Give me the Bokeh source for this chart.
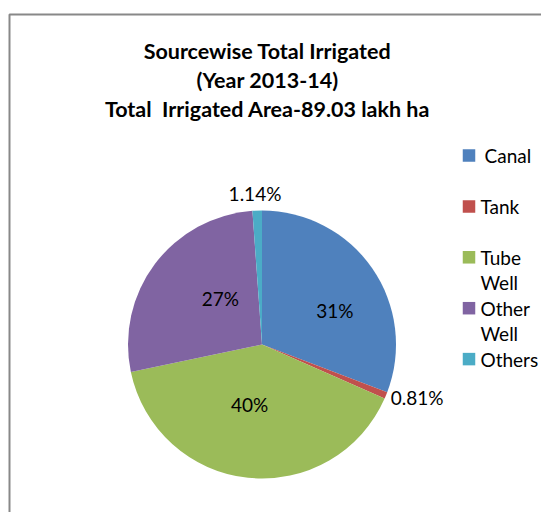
import numpy as np
from bokeh.plotting import figure
from bokeh.models import Range1d
from bokeh.core.properties import value
from bokeh.embed import file_html
from bokeh.resources import INLINE

# ---------------- data ----------------
sources = ["Canal", "Tank", "Tube Well", "Other Well", "Others"]
shares = [30.8, 0.81, 40.1, 27.15, 1.14]          # percent of total irrigated area
pct_labels = ["31%", "0.81%", "40%", "27%", "1.14%"]
legend_lines = [["Canal"], ["Tank"], ["Tube", "Well"], ["Other", "Well"], ["Others"]]
title_lines = ["Sourcewise Total Irrigated", "(Year 2013-14)",
               "Total\u00a0 Irrigated Area-89.03 lakh ha"]

# ---------------- style / layout ----------------
colors = ["#4F81BD", "#C0504D", "#9BBB59", "#8064A2", "#4BACC6"]
FONT = "Lato"
W, H = 541, 512
CX, CY, R = 261.5, 168, 134
label_rad = [0.60, 1.22, 0.46, 0.46, 1.13]
label_nudge = [9.6, -3.5, 5.7, 10.6, -0.6]
label_align = ["center", "left", "center", "center", "center"]

p = figure(width=W, height=H, output_backend="svg", toolbar_location=None,
           x_range=Range1d(0, W), y_range=Range1d(0, H), min_border=0)
p.axis.visible = False
p.grid.visible = False
p.outline_line_color = None
p.background_fill_color = "white"
p.border_fill_color = "white"

# chart border (left and top edges visible)
p.line([9, 9, W], [0, 498, 498], line_color="#888888", line_width=2)

# pie
vals = np.array(shares, dtype=float)
frac = vals / vals.sum()
cum = np.concatenate([[0.0], np.cumsum(frac)])
start = np.pi / 2 - 2 * np.pi * cum[:-1]
end = np.pi / 2 - 2 * np.pi * cum[1:]
p.wedge(x=CX, y=CY, radius=R, start_angle=start, end_angle=end,
        direction="clock", fill_color=colors, line_color=None)

# percentage labels
mid = 2 * np.pi * (cum[:-1] + cum[1:]) / 2 + np.deg2rad(label_nudge)
lx = CX + R * np.array(label_rad) * np.sin(mid)
ly = CY + R * np.array(label_rad) * np.cos(mid)
for i in range(len(sources)):
    tx = lx[i] - (26 if label_align[i] == "left" else 0)
    p.text(x=[tx], y=[ly[i]], text=[pct_labels[i]], text_font=value(FONT),
           text_font_size="19px", text_color="#000000",
           text_align=label_align[i], text_baseline="middle")

# title
for k, line in enumerate(title_lines):
    p.text(x=[267], y=[462 - 29.1 * k], text=[line], text_font=value(FONT),
           text_font_style="bold", text_font_size="21.5px", text_color="#000000",
           text_align="center", text_baseline="middle")

# legend
for k, lines in enumerate(legend_lines):
    cy = 357 - 50.9 * k
    p.rect(x=[468.5], y=[cy], width=12.5, height=12.5,
           fill_color=colors[k], line_color=None)
    for j, t in enumerate(lines):
        p.text(x=[480 + (4 if k == 0 else 0)], y=[cy - 25 * j], text=[t],
               text_font=value(FONT), text_font_size="19px", text_color="#000000",
               text_align="left", text_baseline="middle")

open("out.html", "w").write(file_html(p, INLINE))
